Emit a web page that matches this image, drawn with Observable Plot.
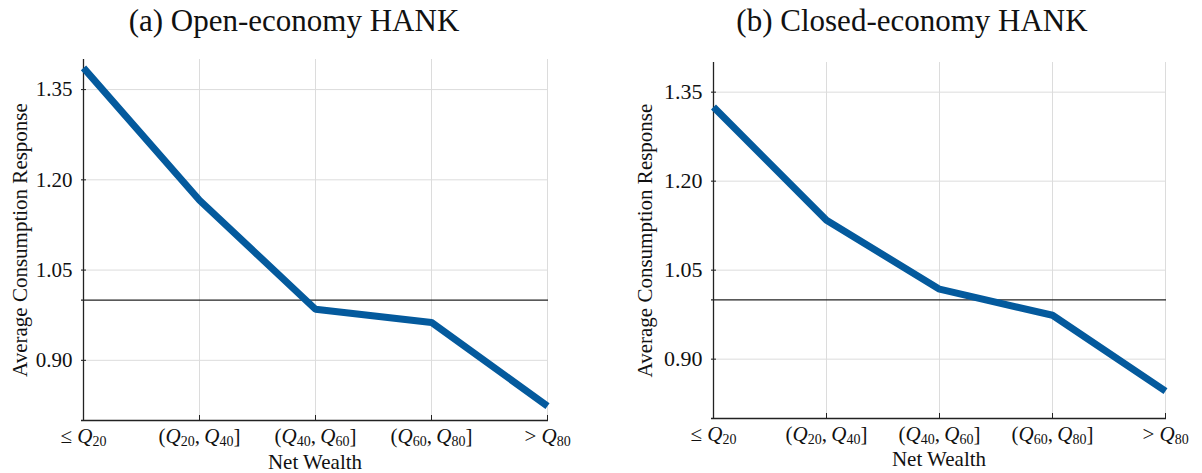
<!DOCTYPE html>
<html>
<head>
<meta charset="utf-8">
<script src="https://cdn.jsdelivr.net/npm/d3@7"></script>
<script src="https://cdn.jsdelivr.net/npm/@observablehq/plot@0.6"></script>
<style>
  body { margin: 0; background: #fff; }
  #wrap { display: flex; width: 1202px; height: 473px; }
  .panel { position: relative; width: 601px; height: 473px; }
  .title { position: absolute; top: 3px; font-family: "Liberation Serif", serif; font-size: 31px; color: #111; white-space: nowrap; transform: translateX(-50%); }
  svg { display: block; }
</style>
</head>
<body>
<div id="wrap"></div>
<script>
const categories = ["≤ Q20", "(Q20, Q40]", "(Q40, Q60]", "(Q60, Q80]", "> Q80"];
const openValues = [1.386, 1.166, 0.985, 0.963, 0.824];
const closedValues = [1.325, 1.134, 1.018, 0.974, 0.846];
const yTicks = [0.90, 1.05, 1.20, 1.35];
const titles = ["(a) Open-economy HANK", "(b) Closed-economy HANK"];
const yLabel = "Average Consumption Response";
const xLabel = "Net Wealth";
const refLine = 1.0;

const FONT = "Liberation Serif, serif";
const LINE = "#045a9d";

function makePanel(values, title, cfg) {
  const data = categories.map((c, i) => ({cat: c, v: values[i]}));
  const W = 601, H = 473;
  const plotW = W - cfg.ml - cfg.mr;
  const plotH = H - cfg.mt - cfg.mb;
  const svg = Plot.plot({
    width: W, height: H,
    marginLeft: cfg.ml, marginRight: cfg.mr, marginTop: cfg.mt, marginBottom: cfg.mb,
    style: {fontFamily: FONT, background: "#fff", color: "#111"},
    x: {type: "point", domain: categories, padding: 0},
    y: {domain: [0.80, 1.40]},
    marks: [
      Plot.ruleY(yTicks, {stroke: "#dcdcdc", strokeWidth: 1}),
      Plot.ruleX(categories.slice(1), {stroke: "#dcdcdc", strokeWidth: 1}),
      Plot.ruleY([refLine], {stroke: "#222", strokeWidth: 1.2}),
      Plot.ruleY(yTicks, {stroke: "#222", insetRight: plotW - 5}),
      Plot.ruleX(categories, {stroke: "#222", insetTop: plotH - 5}),
      Plot.ruleX([categories[0]], {stroke: "#222", strokeWidth: 1.3}),
      Plot.ruleY([0.80], {stroke: "#222", strokeWidth: 1.3}),
      Plot.axisY(yTicks, {tickSize: 0, tickPadding: 9, tickFormat: d3.format(".2f"), fontSize: cfg.yFont, label: null}),
      Plot.axisX({tickSize: 0, tickPadding: 8, fontSize: cfg.xFont, label: null}),
      Plot.text([xLabel], {frameAnchor: "bottom", dy: cfg.xLabOff, fontSize: 21, fill: "#111"}),
      Plot.text([yLabel], {frameAnchor: "left", textAnchor: "middle", rotate: -90, dx: -cfg.yLabOff, fontSize: 21, fill: "#111"}),
      Plot.line(data, {x: "cat", y: "v", stroke: LINE, strokeWidth: 7, strokeLinecap: "butt", strokeLinejoin: "miter"})
    ]
  });
  // format x tick labels: italic Q with subscript digits
  svg.querySelectorAll('g[aria-label="x-axis tick label"] text').forEach(t => {
    const s = t.textContent;
    while (t.firstChild) t.removeChild(t.firstChild);
    const parts = s.split(/(Q\d+)/);
    let lowered = false;
    const NS = "http://www.w3.org/2000/svg";
    for (const p of parts) {
      if (!p) continue;
      const m = p.match(/^Q(\d+)$/);
      if (m) {
        const q = document.createElementNS(NS, "tspan");
        q.setAttribute("font-style", "italic");
        if (lowered) { q.setAttribute("dy", "-3"); lowered = false; }
        q.textContent = "Q";
        t.appendChild(q);
        const sub = document.createElementNS(NS, "tspan");
        sub.setAttribute("font-size", Math.round(cfg.xFont * 0.68));
        sub.setAttribute("dy", "3");
        sub.textContent = m[1];
        t.appendChild(sub);
        lowered = true;
      } else {
        const n = document.createElementNS(NS, "tspan");
        if (lowered) { n.setAttribute("dy", "-3"); lowered = false; }
        n.textContent = p.replace(", ", ",\u2009");
        t.appendChild(n);
      }
    }
  });
  const div = document.createElement("div");
  div.className = "panel";
  div.appendChild(svg);
  const tt = document.createElement("div");
  tt.className = "title";
  tt.style.left = cfg.titleX + "px";
  tt.textContent = title;
  div.appendChild(tt);
  return div;
}

const wrap = document.getElementById("wrap");
wrap.appendChild(makePanel(openValues, titles[0], {ml: 81, mr: 53, mt: 59, mb: 53, yFont: 21, xFont: 21, yLabOff: 61, xLabOff: 48, titleX: 294}));
wrap.appendChild(makePanel(closedValues, titles[1], {ml: 110, mr: 36, mt: 62, mb: 55, yFont: 22, xFont: 21, yLabOff: 66, xLabOff: 47, titleX: 311}));
</script>
</body>
</html>
